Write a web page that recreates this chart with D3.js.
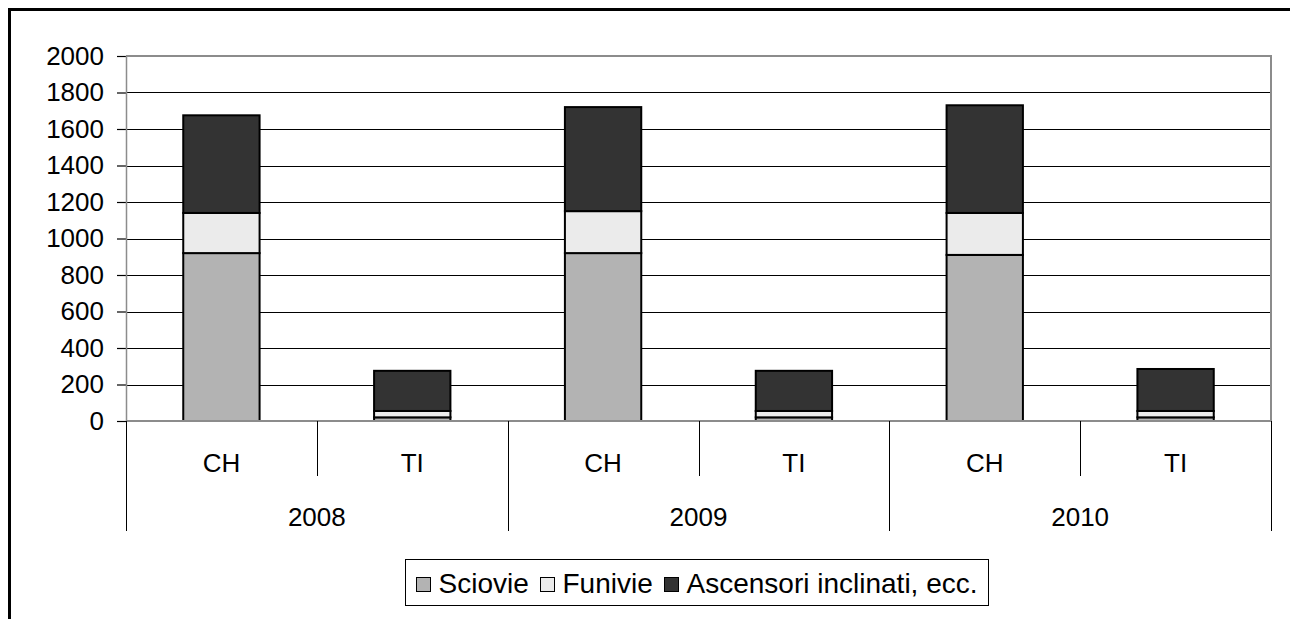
<!DOCTYPE html>
<html>
<head>
<meta charset="utf-8">
<script src="https://cdn.jsdelivr.net/npm/d3@7"></script>
<style>
  body { margin: 0; background: #fff; }
  svg { display: block; font-family: "Liberation Sans", Arial, sans-serif; }
</style>
</head>
<body>
<svg></svg>
<script>
const width = 1290;
const height = 619;
const margin = { top: 56, right: 19, bottom: 198, left: 126 };

// Dati
const anni = ["2008", "2009", "2010"];
const regioni = ["CH", "TI"];
const serie = ["Sciovie", "Funivie", "Ascensori inclinati, ecc."];
const sciovie = [920, 20, 920, 20, 910, 20];
const funivie = [220, 35, 230, 35, 230, 35];
const ascensori = [535, 220, 570, 220, 590, 230];
const yTicks = [0, 200, 400, 600, 800, 1000, 1200, 1400, 1600, 1800, 2000];
const colori = ["#b3b3b3", "#ebebeb", "#333333"];

const fontSize = 26;

const svg = d3.select("svg").attr("width", width).attr("height", height);

// Cornice esterna (tagliata a destra e in basso)
svg.append("rect")
  .attr("x", 9.5).attr("y", 9.5)
  .attr("width", width + 20).attr("height", height + 20)
  .attr("fill", "none").attr("stroke", "#000").attr("stroke-width", 3);

const keys = [];
anni.forEach(a => regioni.forEach(r => keys.push(a + "|" + r)));

const x = d3.scaleBand()
  .domain(keys)
  .range([margin.left, width - margin.right])
  .padding(0);

const y = d3.scaleLinear()
  .domain([0, 2000])
  .range([height - margin.bottom, margin.top]);

const y0 = y(0);

// Griglia
svg.append("g")
  .selectAll("line")
  .data(yTicks.filter(d => d > 0 && d < 2000))
  .join("line")
  .attr("x1", margin.left).attr("x2", width - margin.right)
  .attr("y1", d => Math.round(y(d)) + 0.5).attr("y2", d => Math.round(y(d)) + 0.5)
  .attr("stroke", "#000").attr("stroke-width", 1);

// Bordo area del grafico
svg.append("path")
  .attr("d", `M${margin.left},${y(2000)}H${width - margin.right}V${y0}`)
  .attr("fill", "none").attr("stroke", "#8c8c8c").attr("stroke-width", 2);

// Barre impilate
const tabella = keys.map((k, i) => ({ key: k, Sciovie: sciovie[i], Funivie: funivie[i], "Ascensori inclinati, ecc.": ascensori[i] }));
const stack = d3.stack().keys(serie)(tabella);
const barW = x.bandwidth() * 0.4;

svg.append("g")
  .selectAll("g")
  .data(stack)
  .join("g")
  .attr("fill", (d, i) => colori[i])
  .selectAll("rect")
  .data(d => d)
  .join("rect")
  .attr("x", d => x(d.data.key) + (x.bandwidth() - barW) / 2)
  .attr("y", d => y(d[1]))
  .attr("width", barW)
  .attr("height", d => y(d[0]) - y(d[1]))
  .attr("stroke", "#000")
  .attr("stroke-width", 2);

// Asse Y
const yAxis = svg.append("g")
  .attr("transform", `translate(${margin.left},0)`)
  .call(d3.axisLeft(y).tickValues(yTicks).tickSize(9).tickPadding(13).tickFormat(d3.format("d")));
yAxis.select(".domain").remove();
yAxis.selectAll(".tick line").attr("stroke", "#000").attr("stroke-width", 1.2);
yAxis.selectAll("text").attr("font-size", fontSize).attr("fill", "#000")
  .attr("font-family", "Liberation Sans, Arial, sans-serif");

// Asse X (due livelli)
const row1 = y0 + 55;
const row2 = y0 + 110;

svg.append("line")
  .attr("x1", margin.left).attr("x2", width - margin.right)
  .attr("y1", y0).attr("y2", y0)
  .attr("stroke", "#8c8c8c").attr("stroke-width", 2);

svg.append("line")
  .attr("x1", margin.left + 0.5).attr("x2", margin.left + 0.5)
  .attr("y1", y(2000)).attr("y2", y0)
  .attr("stroke", "#8c8c8c").attr("stroke-width", 1.5);

// separatori tra regioni
svg.append("g")
  .selectAll("line")
  .data(keys.filter(k => k.endsWith("TI")))
  .join("line")
  .attr("x1", d => Math.round(x(d)) + 0.5).attr("x2", d => Math.round(x(d)) + 0.5)
  .attr("y1", y0).attr("y2", row1)
  .attr("stroke", "#000").attr("stroke-width", 1);

// separatori tra anni
const bordi = anni.map(a => x(a + "|CH")).concat([width - margin.right]);
svg.append("g")
  .selectAll("line")
  .data(bordi)
  .join("line")
  .attr("x1", d => Math.round(d) + 0.5).attr("x2", d => Math.round(d) + 0.5)
  .attr("y1", y0).attr("y2", row2)
  .attr("stroke", "#000").attr("stroke-width", 1);

svg.append("g")
  .selectAll("text")
  .data(keys)
  .join("text")
  .attr("x", d => x(d) + x.bandwidth() / 2)
  .attr("y", y0 + 42)
  .attr("dy", "0.35em")
  .attr("text-anchor", "middle")
  .attr("font-size", fontSize)
  .text(d => d.split("|")[1]);

svg.append("g")
  .selectAll("text")
  .data(anni)
  .join("text")
  .attr("x", d => x(d + "|CH") + x.bandwidth())
  .attr("y", y0 + 96)
  .attr("dy", "0.35em")
  .attr("text-anchor", "middle")
  .attr("font-size", fontSize)
  .text(d => d);

// Legenda
const legBox = { x: 405, y: 559, w: 583, h: 46 };
const legend = svg.append("g");
legend.append("rect")
  .attr("x", legBox.x + 0.5).attr("y", legBox.y + 0.5).attr("width", legBox.w).attr("height", legBox.h)
  .attr("fill", "#fff").attr("stroke", "#000").attr("stroke-width", 1);

const sw = 14, gapSw = 8, gapItem = 12, legFont = 28;
const cy = legBox.y + legBox.h / 2 + 2;
const items = legend.selectAll("g.item")
  .data(serie)
  .join("g")
  .attr("class", "item");
items.append("rect")
  .attr("width", sw).attr("height", sw)
  .attr("y", Math.round(cy - sw / 2) + 0.5)
  .attr("fill", (d, i) => colori[i]).attr("stroke", "#000").attr("stroke-width", 1);
items.append("text")
  .attr("x", sw + gapSw)
  .attr("y", cy - 1)
  .attr("dy", "0.35em")
  .attr("font-size", legFont)
  .text(d => d);

const widths = [];
items.each(function () { widths.push(d3.select(this).select("text").node().getComputedTextLength()); });
const total = d3.sum(widths) + serie.length * (sw + gapSw) + (serie.length - 1) * gapItem;
let cx = legBox.x + (legBox.w - total) / 2;
items.each(function (d, i) {
  d3.select(this).attr("transform", `translate(${Math.round(cx) + 0.5},0)`);
  cx += sw + gapSw + widths[i] + gapItem;
});
</script>
</body>
</html>
